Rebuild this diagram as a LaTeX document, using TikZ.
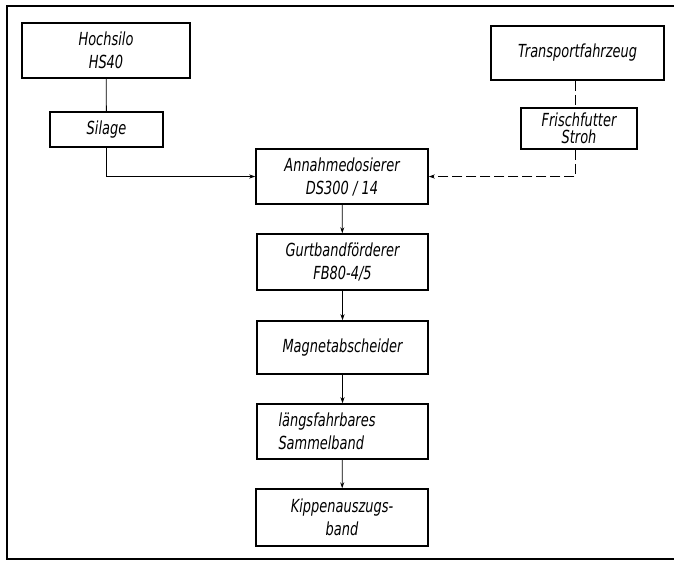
\documentclass[tikz,border=0pt]{standalone}
\usepackage{fontspec}
\setmainfont{DejaVu Sans}[FakeStretch=0.72]
\usepackage{tikz}
\usetikzlibrary{arrows.meta}

\begin{document}
\begin{tikzpicture}[x=1pt, y=-1pt,
        box/.style={draw, line width=1.5pt, inner sep=2pt, align=center,
            font=\fontsize{18}{23}\selectfont\itshape},
        flow/.style={line width=0.8pt, -{Stealth[length=6pt, width=4pt]}},
        feed/.style={flow, dash pattern=on 10pt off 4pt}]
        \useasboundingbox (0,0) rectangle (674,560);

        % Frame
        \draw[line width=1.5pt] (675,6) -- (7,6) -- (7,559) -- (675,559);

        % Silage line
        \node[box, minimum width=168pt, minimum height=55pt] (hochsilo) at (106,50.5) {Hochsilo\\HS40};
        \node[box, minimum width=113pt, minimum height=35pt] (silage) at (106.5,129.5) {Silage};

        % Fresh fodder line
        \node[box, minimum width=173pt, minimum height=54pt] (fahrzeug) at (577.5,53) {Transportfahrzeug};
        \node[box, minimum width=116pt, minimum height=41pt, font=\fontsize{18}{17}\selectfont\itshape] (frisch) at (579,128.5) {Frischfutter\\Stroh};

        % Main chain
        \node[box, minimum width=172pt, minimum height=55pt] (dosierer) at (342,176.5) {Annahmedosierer\\DS300 / 14};
        \node[box, minimum width=171pt, minimum height=56pt] (gurtband) at (342.5,262) {Gurtbandförderer\\FB80-4/5};
        \node[box, minimum width=171pt, minimum height=53pt] (magnet) at (342.5,347.5) {Magnetabscheider};
        \node[box, minimum width=171pt, minimum height=55pt, align=left, text width=128pt] (sammel) at (342.5,431.5) {längsfahrbares\\Sammelband};
        \node[box, minimum width=172pt, minimum height=57pt] (kippen) at (342,517.5) {Kippenauszugs-\\band};

        % Connectors
        \draw[line width=0.8pt] (hochsilo) -- (silage);
        \draw[flow] (silage.south) |- (dosierer.west);
        \draw[line width=0.8pt, dash pattern=on 10pt off 4pt] ([xshift=-2pt]fahrzeug.south) -- ([xshift=-2pt]frisch.north -| fahrzeug.south);
        \draw[feed] ([xshift=-2pt]frisch.south -| fahrzeug.south) |- (dosierer.east);
        \draw[flow] (dosierer) -- (gurtband);
        \draw[flow] (gurtband) -- (magnet);
        \draw[flow] (magnet) -- (sammel);
        \draw[flow] (sammel) -- (kippen);
    \end{tikzpicture}
\end{document}
